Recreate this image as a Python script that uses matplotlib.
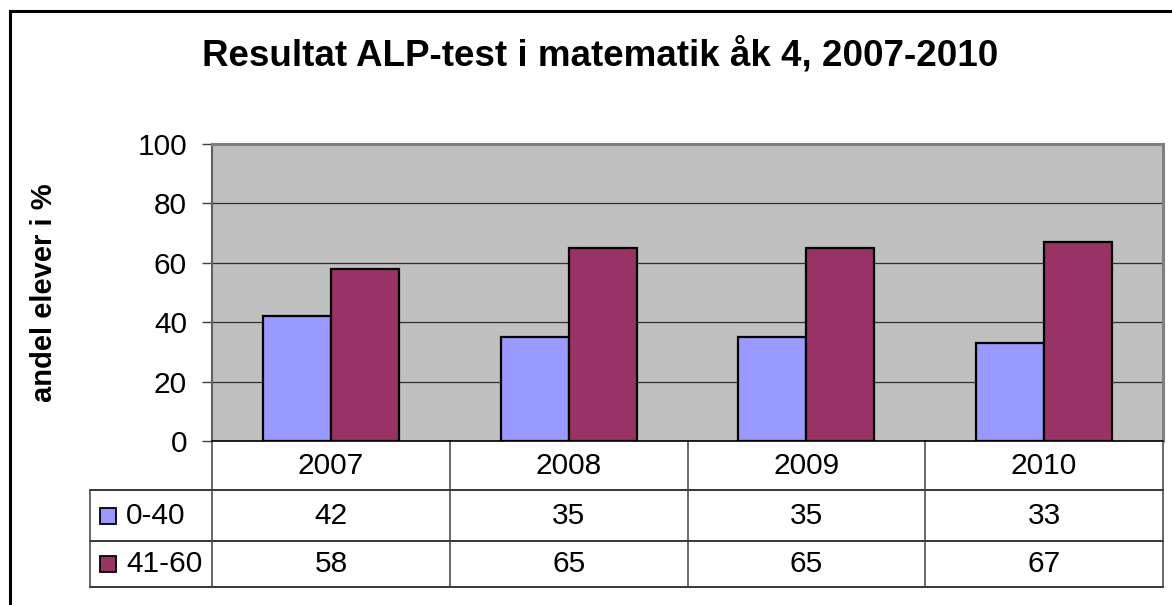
import numpy as np
import matplotlib
matplotlib.use("Agg")
from matplotlib import pyplot as plt
from matplotlib.patches import Rectangle
import matplotlib.transforms as mtransforms

plt.rcParams['font.family'] = ['Liberation Sans', 'DejaVu Sans']

years = ["2007", "2008", "2009", "2010"]
series_names = ["0-40", "41-60"]
low = [42, 35, 35, 33]
high = [58, 65, 65, 67]
colors = ["#9999FF", "#993366"]
yticks = [0, 20, 40, 60, 80, 100]

W, H = 1172, 605
fs = 21.5
fig = plt.figure(figsize=(W / 100, H / 100), dpi=100)

# outer chart border (only top and left fall inside the picture)
fig.add_artist(plt.Line2D([10 / W, 10 / W], [0, 1 - 11 / H], transform=fig.transFigure,
                          color="black", lw=2.2))
fig.add_artist(plt.Line2D([10 / W, 1], [1 - 11 / H, 1 - 11 / H], transform=fig.transFigure,
                          color="black", lw=2.2))

left, right, top, bottom = 212, 1163, 144, 441
ax = fig.add_axes([left / W, 1 - bottom / H, (right - left) / W, (bottom - top) / H])
ax.set_facecolor("#C0C0C0")

x = np.arange(len(years))
bw = 1 / 3.5
ax.bar(x - bw / 2, low, bw, color=colors[0], edgecolor="black", lw=1.6, zorder=3)
ax.bar(x + bw / 2, high, bw, color=colors[1], edgecolor="black", lw=1.6, zorder=3)

ax.set_xlim(-0.5, len(years) - 0.5)
ax.set_ylim(0, 100)
ax.set_yticks(yticks)
ax.set_xticks([])
ax.tick_params(axis="y", length=7, width=1, color="#404040", labelsize=fs, pad=11)
ax.yaxis.grid(True, color="#303030", lw=0.9, zorder=1)
ax.set_axisbelow(True)
for s in ["top", "right"]:
    ax.spines[s].set_color("#808080")
    ax.spines[s].set_linewidth(2.2)
ax.spines["left"].set_color("#606060")
ax.spines["left"].set_linewidth(1.5)
ax.spines["bottom"].set_color("black")
ax.spines["bottom"].set_linewidth(1.2)
ax.spines["bottom"].set_zorder(4)

ax.set_ylabel("andel elever i %", fontsize=21, fontweight="bold")
ax.yaxis.set_label_coords(-(left - 58) / (right - left), 0.5)

fig.text(600 / W, 1 - 55 / H, "Resultat ALP-test i matematik åk 4, 2007-2010",
         ha="center", va="center", fontsize=26.5, fontweight="bold")

# data table under the plot
axh = bottom - top
r1 = -(490 - bottom) / axh
r2 = -(541 - bottom) / axh
r3 = -(587 - bottom) / axh
lx = -(left - 90) / (right - left)
bt = mtransforms.blended_transform_factory(ax.transData, ax.transAxes)

for y in [r1, r2, r3]:
    ax.plot([lx, 1], [y, y], transform=ax.transAxes, color="black", lw=1.1, clip_on=False)
for b in np.arange(len(years) + 1) - 0.5:
    ax.plot([b, b], [0, r3], transform=bt, color="#404040", lw=1.1, clip_on=False)
ax.plot([lx, lx], [r1, r3], transform=ax.transAxes, color="#404040", lw=1.1, clip_on=False)

for i, yr in enumerate(years):
    ax.text(i, (0 + r1) / 2, yr, transform=bt, ha="center", va="center", fontsize=fs)
    ax.text(i, (r1 + r2) / 2, str(low[i]), transform=bt, ha="center", va="center", fontsize=fs)
    ax.text(i, (r2 + r3) / 2, str(high[i]), transform=bt, ha="center", va="center", fontsize=fs)

kw = 16 / (right - left)
kh = 16 / axh
for name, c, (ya, yb) in zip(series_names, colors, [(r1, r2), (r2, r3)]):
    yc = (ya + yb) / 2
    ax.add_patch(Rectangle((lx + 10 / (right - left), yc - kh / 2), kw, kh, transform=ax.transAxes,
                           facecolor=c, edgecolor="black", lw=1.3, clip_on=False))
    ax.text(lx + 36 / (right - left), yc, name, transform=ax.transAxes, ha="left", va="center",
            fontsize=fs)

fig.savefig("out.png", dpi=100)
